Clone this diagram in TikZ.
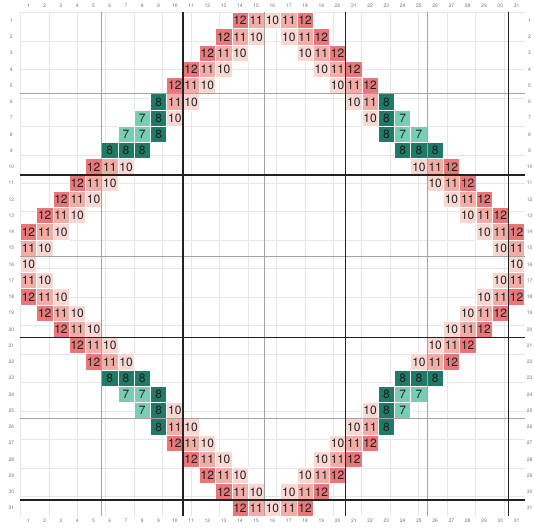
\documentclass[tikz,border=0pt]{standalone}
\usepackage{fontspec}
\setmainfont{TeX Gyre Heros}
\definecolor{v12}{HTML}{E8777A}
\definecolor{v11}{HTML}{F2ADA7}
\definecolor{v10}{HTML}{F9D8D3}
\definecolor{v8}{HTML}{1F7B68}
\definecolor{v7}{HTML}{7ACDB3}
\definecolor{minorline}{HTML}{E6E6E6}
\definecolor{midline}{HTML}{A3A3A3}
\definecolor{majorline}{HTML}{222222}
\tikzset{
  cell/.style={draw=white, line width=0.6pt, minimum width=16.27pt, minimum height=16.25pt,
    inner sep=0pt, text=black!88, font=\fontsize{12}{12}\selectfont},
  axislabel/.style={inner sep=0pt, text=black!55, font=\fontsize{5}{5}\selectfont}
}
\begin{document}
\begin{tikzpicture}
    \useasboundingbox (0pt,0pt) rectangle (534pt,-527pt);
    \begin{scope}[shift={(20.3pt,-12.5pt)}, x=16.27pt, y=-16.25pt]
        % Fine grid
        \draw[minorline, line width=0.5pt] (0,0) grid (31,31);
        % Filled cells
        \foreach \r/\cells in {
            1/{14/12,15/11,16/10,17/11,18/12},
            2/{13/12,14/11,15/10,17/10,18/11,19/12},
            3/{12/12,13/11,14/10,18/10,19/11,20/12},
            4/{11/12,12/11,13/10,19/10,20/11,21/12},
            5/{10/12,11/11,12/10,20/10,21/11,22/12},
            6/{9/8,10/11,11/10,21/10,22/11,23/8},
            7/{8/7,9/8,10/10,22/10,23/8,24/7},
            8/{7/7,8/7,9/8,23/8,24/7,25/7},
            9/{6/8,7/8,8/8,24/8,25/8,26/8},
            10/{5/12,6/11,7/10,25/10,26/11,27/12},
            11/{4/12,5/11,6/10,26/10,27/11,28/12},
            12/{3/12,4/11,5/10,27/10,28/11,29/12},
            13/{2/12,3/11,4/10,28/10,29/11,30/12},
            14/{1/12,2/11,3/10,29/10,30/11,31/12},
            15/{1/11,2/10,30/10,31/11},
            16/{1/10,31/10},
            17/{1/11,2/10,30/10,31/11},
            18/{1/12,2/11,3/10,29/10,30/11,31/12},
            19/{2/12,3/11,4/10,28/10,29/11,30/12},
            20/{3/12,4/11,5/10,27/10,28/11,29/12},
            21/{4/12,5/11,6/10,26/10,27/11,28/12},
            22/{5/12,6/11,7/10,25/10,26/11,27/12},
            23/{6/8,7/8,8/8,24/8,25/8,26/8},
            24/{7/7,8/7,9/8,23/8,24/7,25/7},
            25/{8/7,9/8,10/10,22/10,23/8,24/7},
            26/{9/8,10/11,11/10,21/10,22/11,23/8},
            27/{10/12,11/11,12/10,20/10,21/11,22/12},
            28/{11/12,12/11,13/10,19/10,20/11,21/12},
            29/{12/12,13/11,14/10,18/10,19/11,20/12},
            30/{13/12,14/11,15/10,17/10,18/11,19/12},
            31/{14/12,15/11,16/10,17/11,18/12}}{
            \foreach \c/\v in \cells
                \node[cell, fill=v\v] (cell-\r-\c) at (\c-0.5,\r-0.5) {\v};
        }
        % Every fifth and tenth line
        \foreach \k in {5,15,25} {
            \draw[midline, line width=0.9pt] (\k,0) -- (\k,31);
            \draw[midline, line width=0.9pt] (0,\k) -- (31,\k);
        }
        \foreach \k in {10,20,30} {
            \draw[majorline, line width=1.3pt] (\k,0) -- (\k,31);
            \draw[majorline, line width=1.3pt] (0,\k) -- (31,\k);
        }
        % Row and column numbers
        \foreach \k in {1,...,31} {
            \node[axislabel] (top-\k) at (\k-0.5,-0.4) {\k};
            \node[axislabel] (bottom-\k) at (\k-0.5,31.3) {\k};
            \node[axislabel] (left-\k) at (-0.55,\k-0.5) {\k};
            \node[axislabel] (right-\k) at (31.3,\k-0.5) {\k};
        }
    \end{scope}
\end{tikzpicture}
\end{document}
